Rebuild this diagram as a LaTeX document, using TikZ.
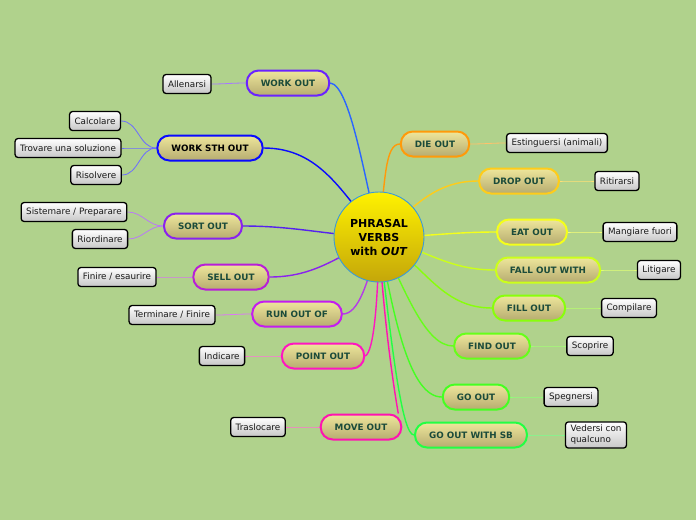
\documentclass[tikz,border=0pt]{standalone}
\usepackage{fontspec}
\setmainfont{DejaVu Sans}
\usetikzlibrary{backgrounds}
\definecolor{bggreen}{HTML}{B0D28C}
\definecolor{verbtext}{HTML}{1B4B3A}
\definecolor{hubring}{HTML}{3A9AD9}
\definecolor{cWorkOut}{HTML}{6A22FF}
\definecolor{lWorkOut}{HTML}{2A66FF}
\definecolor{cWorkSth}{HTML}{0A0AFF}
\definecolor{cSort}{HTML}{8A22EE}
\definecolor{lSort}{HTML}{5522EE}
\definecolor{cSell}{HTML}{B81ED8}
\definecolor{lSell}{HTML}{8A22EE}
\definecolor{cRun}{HTML}{C41CF0}
\definecolor{lRun}{HTML}{B43CE8}
\definecolor{cPoint}{HTML}{FF16C0}
\definecolor{cMove}{HTML}{FF14B0}
\definecolor{cDie}{HTML}{FF9A0A}
\definecolor{cDrop}{HTML}{FFCC1A}
\definecolor{cEat}{HTML}{F4FF1A}
\definecolor{cFall}{HTML}{CCFF1A}
\definecolor{cFill}{HTML}{88FF0A}
\definecolor{cFind}{HTML}{66FF1A}
\definecolor{cGo}{HTML}{44FF22}
\definecolor{cGoWith}{HTML}{22FF44}
\begin{document}
\begin{tikzpicture}[
		x=1pt, y=-1pt,
		hub/.style={circle, draw=hubring, line width=0.9pt, minimum size=90pt, inner sep=0pt,
			top color=yellow!90!orange, bottom color={rgb,255:red,196;green,166;blue,10},
			align=center, font=\fontsize{11}{14}\selectfont\bfseries},
		verb/.style={draw=#1, line width=2pt, rounded corners=12pt, minimum height=25pt, inner xsep=14pt,
			top color={rgb,255:red,238;green,230;blue,155}, bottom color={rgb,255:red,182;green,172;blue,112},
			text=verbtext, font=\fontsize{8.8}{10}\selectfont\bfseries},
		meaning/.style={draw=black, line width=1.3pt, rounded corners=3pt, minimum height=19pt, inner xsep=5pt,
			top color=white, bottom color=black!22, text=black!90, align=left,
			font=\fontsize{8.8}{11}\selectfont},
		branch/.style={draw=#1, line width=1.4pt},
		twig/.style={draw=#1!60!white, line width=0.8pt},
	]
	\useasboundingbox (0,0) rectangle (696,520);

	\node[hub] (hub) at (379,237) {PHRASAL\\VERBS\\with \textit{OUT}};

	\node[verb=cWorkOut] (wo)   at (288,83)  {WORK OUT};
	\node[verb=cWorkSth, text=black] (wso) at (210,148) {WORK STH OUT};
	\node[verb=cSort]    (so)   at (203,226) {SORT OUT};
	\node[verb=cSell]    (sel)  at (231,277) {SELL OUT};
	\node[verb=cRun]     (ro)   at (297,314) {RUN OUT OF};
	\node[verb=cPoint]   (po)   at (323,356) {POINT OUT};
	\node[verb=cMove]    (mo)   at (361,427) {MOVE OUT};
	\node[verb=cDie]     (die)  at (435,144) {DIE OUT};
	\node[verb=cDrop]    (drop) at (519,181) {DROP OUT};
	\node[verb=cEat]     (eat)  at (532,232) {EAT OUT};
	\node[verb=cFall]    (fall) at (548,270) {FALL OUT WITH};
	\node[verb=cFill]    (fill) at (529,308) {FILL OUT};
	\node[verb=cFind]    (find) at (492,346) {FIND OUT};
	\node[verb=cGo]      (go)   at (476,397) {GO OUT};
	\node[verb=cGoWith]  (gows) at (471,435) {GO OUT WITH SB};

	\node[meaning] (allen)  at (187,84)  {Allenarsi};
	\node[meaning] (calc)   at (95,121)  {Calcolare};
	\node[meaning] (trov)   at (68,148)  {Trovare una soluzione};
	\node[meaning] (ris)    at (96,175)  {Risolvere};
	\node[meaning] (sist)   at (74,212)  {Sistemare / Preparare};
	\node[meaning] (riord)  at (100,239) {Riordinare};
	\node[meaning] (finire) at (117,277) {Finire / esaurire};
	\node[meaning] (term)   at (172,315) {Terminare / Finire};
	\node[meaning] (indic)  at (222,356) {Indicare};
	\node[meaning] (trasl)  at (258,427) {Traslocare};
	\node[meaning] (estin)  at (557,143) {Estinguersi (animali)};
	\node[meaning] (ritir)  at (617,181) {Ritirarsi};
	\node[meaning] (mang)   at (640,232) {Mangiare fuori};
	\node[meaning] (litig)  at (659,270) {Litigare};
	\node[meaning] (compil) at (629,308) {Compilare};
	\node[meaning] (scopr)  at (590,346) {Scoprire};
	\node[meaning] (spegn)  at (571,397) {Spegnersi};
	\node[meaning] (vedersi) at (596,435) {Vedersi con\\qualcuno};

	\begin{scope}[on background layer]
		\fill[bggreen] (0,0) rectangle (696,520);

		\draw[branch=lWorkOut] (hub.center) .. controls (365,180) and (350,85) .. (wo.east);
		\draw[branch=cWorkSth] (hub.center) to[out=130, in=0]   (wso.east);
		\draw[branch=lSort]    (hub.center) to[out=178, in=0]   (so.east);
		\draw[branch=lSell]    (hub.center) to[out=205, in=0]   (sel.east);
		\draw[branch=lRun]     (hub.center) .. controls (368,285) and (358,314) .. (ro.east);
		\draw[branch=cPoint]   (hub.center) .. controls (378,300) and (374,352) .. (po.east);
		\draw[branch=cMove]    (hub.center) .. controls (384,330) and (396,400) .. ([xshift=-4pt]mo.north east);
		\draw[branch=cDie]     (hub.center) .. controls (385,180) and (385,144) .. (die.west);
		\draw[branch=cDrop]    (hub.center) to[out=40,  in=180] (drop.west);
		\draw[branch=cEat]     (hub.center) to[out=0,   in=180] (eat.west);
		\draw[branch=cFall]    (hub.center) to[out=-15, in=180] (fall.west);
		\draw[branch=cFill]    (hub.center) to[out=-30, in=180] (fill.west);
		\draw[branch=cFind]    (hub.center) .. controls (405,290) and (425,346) .. (find.west);
		\draw[branch=cGo]      (hub.center) .. controls (394,320) and (410,397) .. (go.west);
		\draw[branch=cGoWith]  (hub.center) .. controls (392,350) and (402,435) .. (gows.west);

		\draw[twig=cWorkOut] (wo.west)   to[out=180, in=0] (allen.east);
		\draw[twig=cWorkSth] (wso.west)  to[out=180, in=0] (calc.east);
		\draw[twig=cWorkSth] (wso.west)  to[out=180, in=0] (trov.east);
		\draw[twig=cWorkSth] (wso.west)  to[out=180, in=0] (ris.east);
		\draw[twig=cSort]    (so.west)   to[out=180, in=0] (sist.east);
		\draw[twig=cSort]    (so.west)   to[out=180, in=0] (riord.east);
		\draw[twig=cSell]    (sel.west)  to[out=180, in=0] (finire.east);
		\draw[twig=cRun]     (ro.west)   to[out=180, in=0] (term.east);
		\draw[twig=cPoint]   (po.west)   to[out=180, in=0] (indic.east);
		\draw[twig=cMove]    (mo.west)   to[out=180, in=0] (trasl.east);
		\draw[twig=cDie]     (die.east)  to[out=0, in=180] (estin.west);
		\draw[twig=cDrop]    (drop.east) to[out=0, in=180] (ritir.west);
		\draw[twig=cEat]     (eat.east)  to[out=0, in=180] (mang.west);
		\draw[twig=cFall]    (fall.east) to[out=0, in=180] (litig.west);
		\draw[twig=cFill]    (fill.east) to[out=0, in=180] (compil.west);
		\draw[twig=cFind]    (find.east) to[out=0, in=180] (scopr.west);
		\draw[twig=cGo]      (go.east)   to[out=0, in=180] (spegn.west);
		\draw[twig=cGoWith]  (gows.east) to[out=0, in=180] (vedersi.west);
	\end{scope}
\end{tikzpicture}
\end{document}
